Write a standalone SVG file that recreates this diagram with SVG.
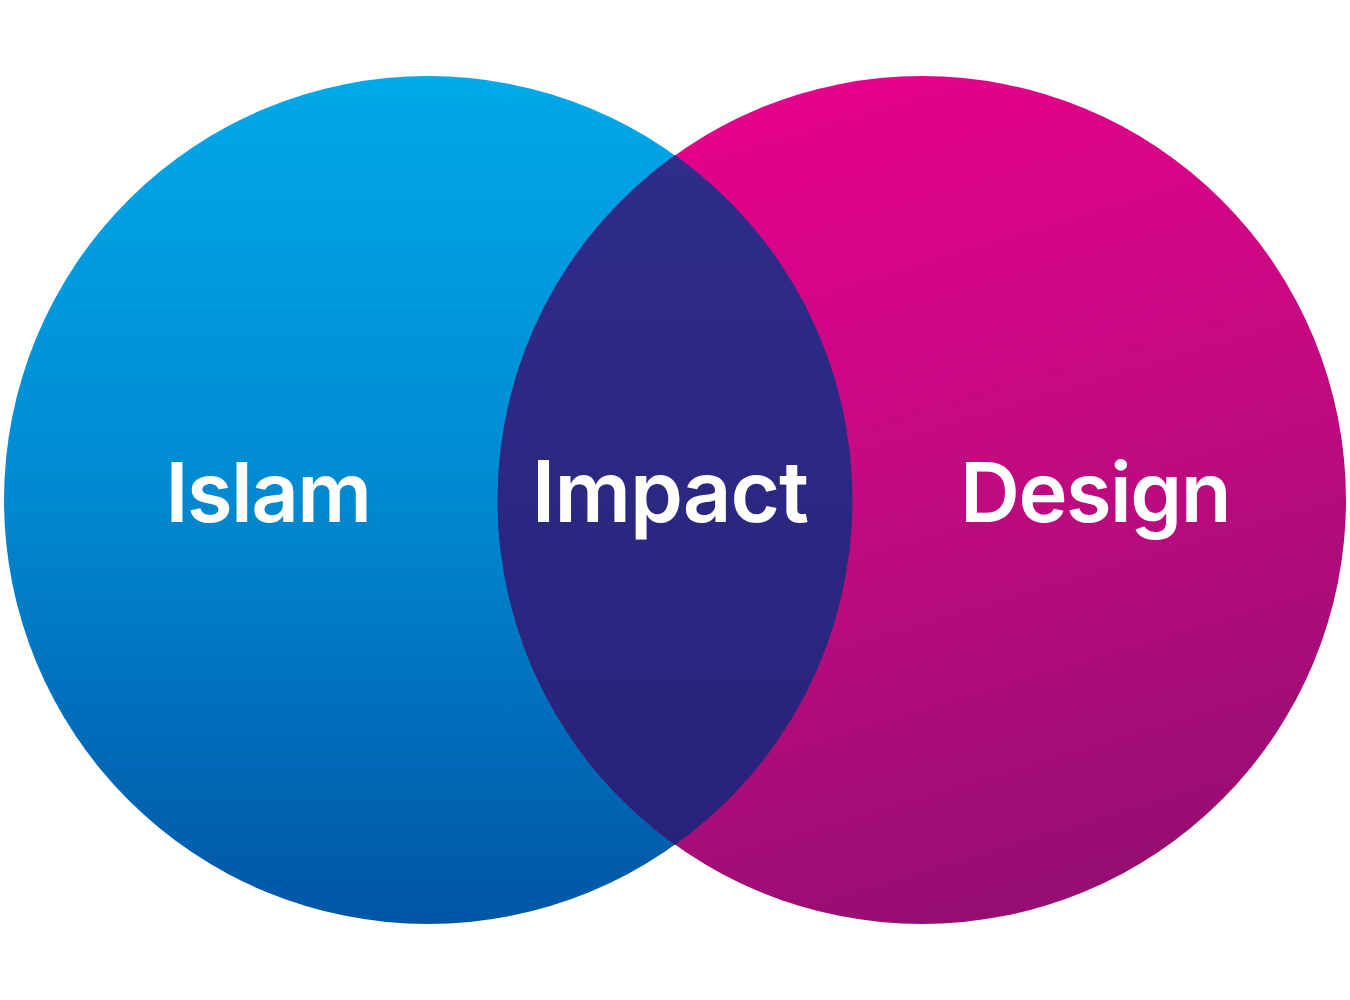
<svg xmlns="http://www.w3.org/2000/svg" width="1350" height="1000" viewBox="0 0 1350 1000">
<defs>
<linearGradient id="gBlue" x1="0" y1="0" x2="0" y2="1">
<stop offset="0" stop-color="#00A9EA"/>
<stop offset="0.5" stop-color="#0089D0"/>
<stop offset="1" stop-color="#0055A6"/>
</linearGradient>
<linearGradient id="gPink" x1="0.3" y1="0" x2="0.6" y2="1">
<stop offset="0" stop-color="#E8008C"/>
<stop offset="0.5" stop-color="#C20A80"/>
<stop offset="1" stop-color="#950E72"/>
</linearGradient>
<linearGradient id="gLens" x1="0" y1="0" x2="0" y2="1">
<stop offset="0" stop-color="#2E2D8A"/>
<stop offset="1" stop-color="#29227A"/>
</linearGradient>
<style>
.lbl{font-family:Inter,"Liberation Sans",sans-serif;font-weight:600;font-size:85px;fill:#ffffff;text-anchor:middle;letter-spacing:-1px}
.sm{font-size:83px;letter-spacing:-1.5px}
</style>
</defs>
<g id="islam">
<circle cx="428" cy="500" r="424" fill="url(#gBlue)"/>
</g>
<g id="design">
<circle cx="922" cy="500" r="424" fill="url(#gPink)"/>
</g>
<g id="impact">
<path d="M675 155 A424 424 0 0 1 675 845 A424 424 0 0 1 675 155 Z" fill="url(#gLens)"/>
</g>
<g id="connectors"/>
<g id="labels">
<text class="lbl sm" x="268" y="522">Islam</text>
<text class="lbl" x="670" y="522">Impact</text>
<text class="lbl sm" x="1095" y="522">Design</text>
</g>
</svg>
